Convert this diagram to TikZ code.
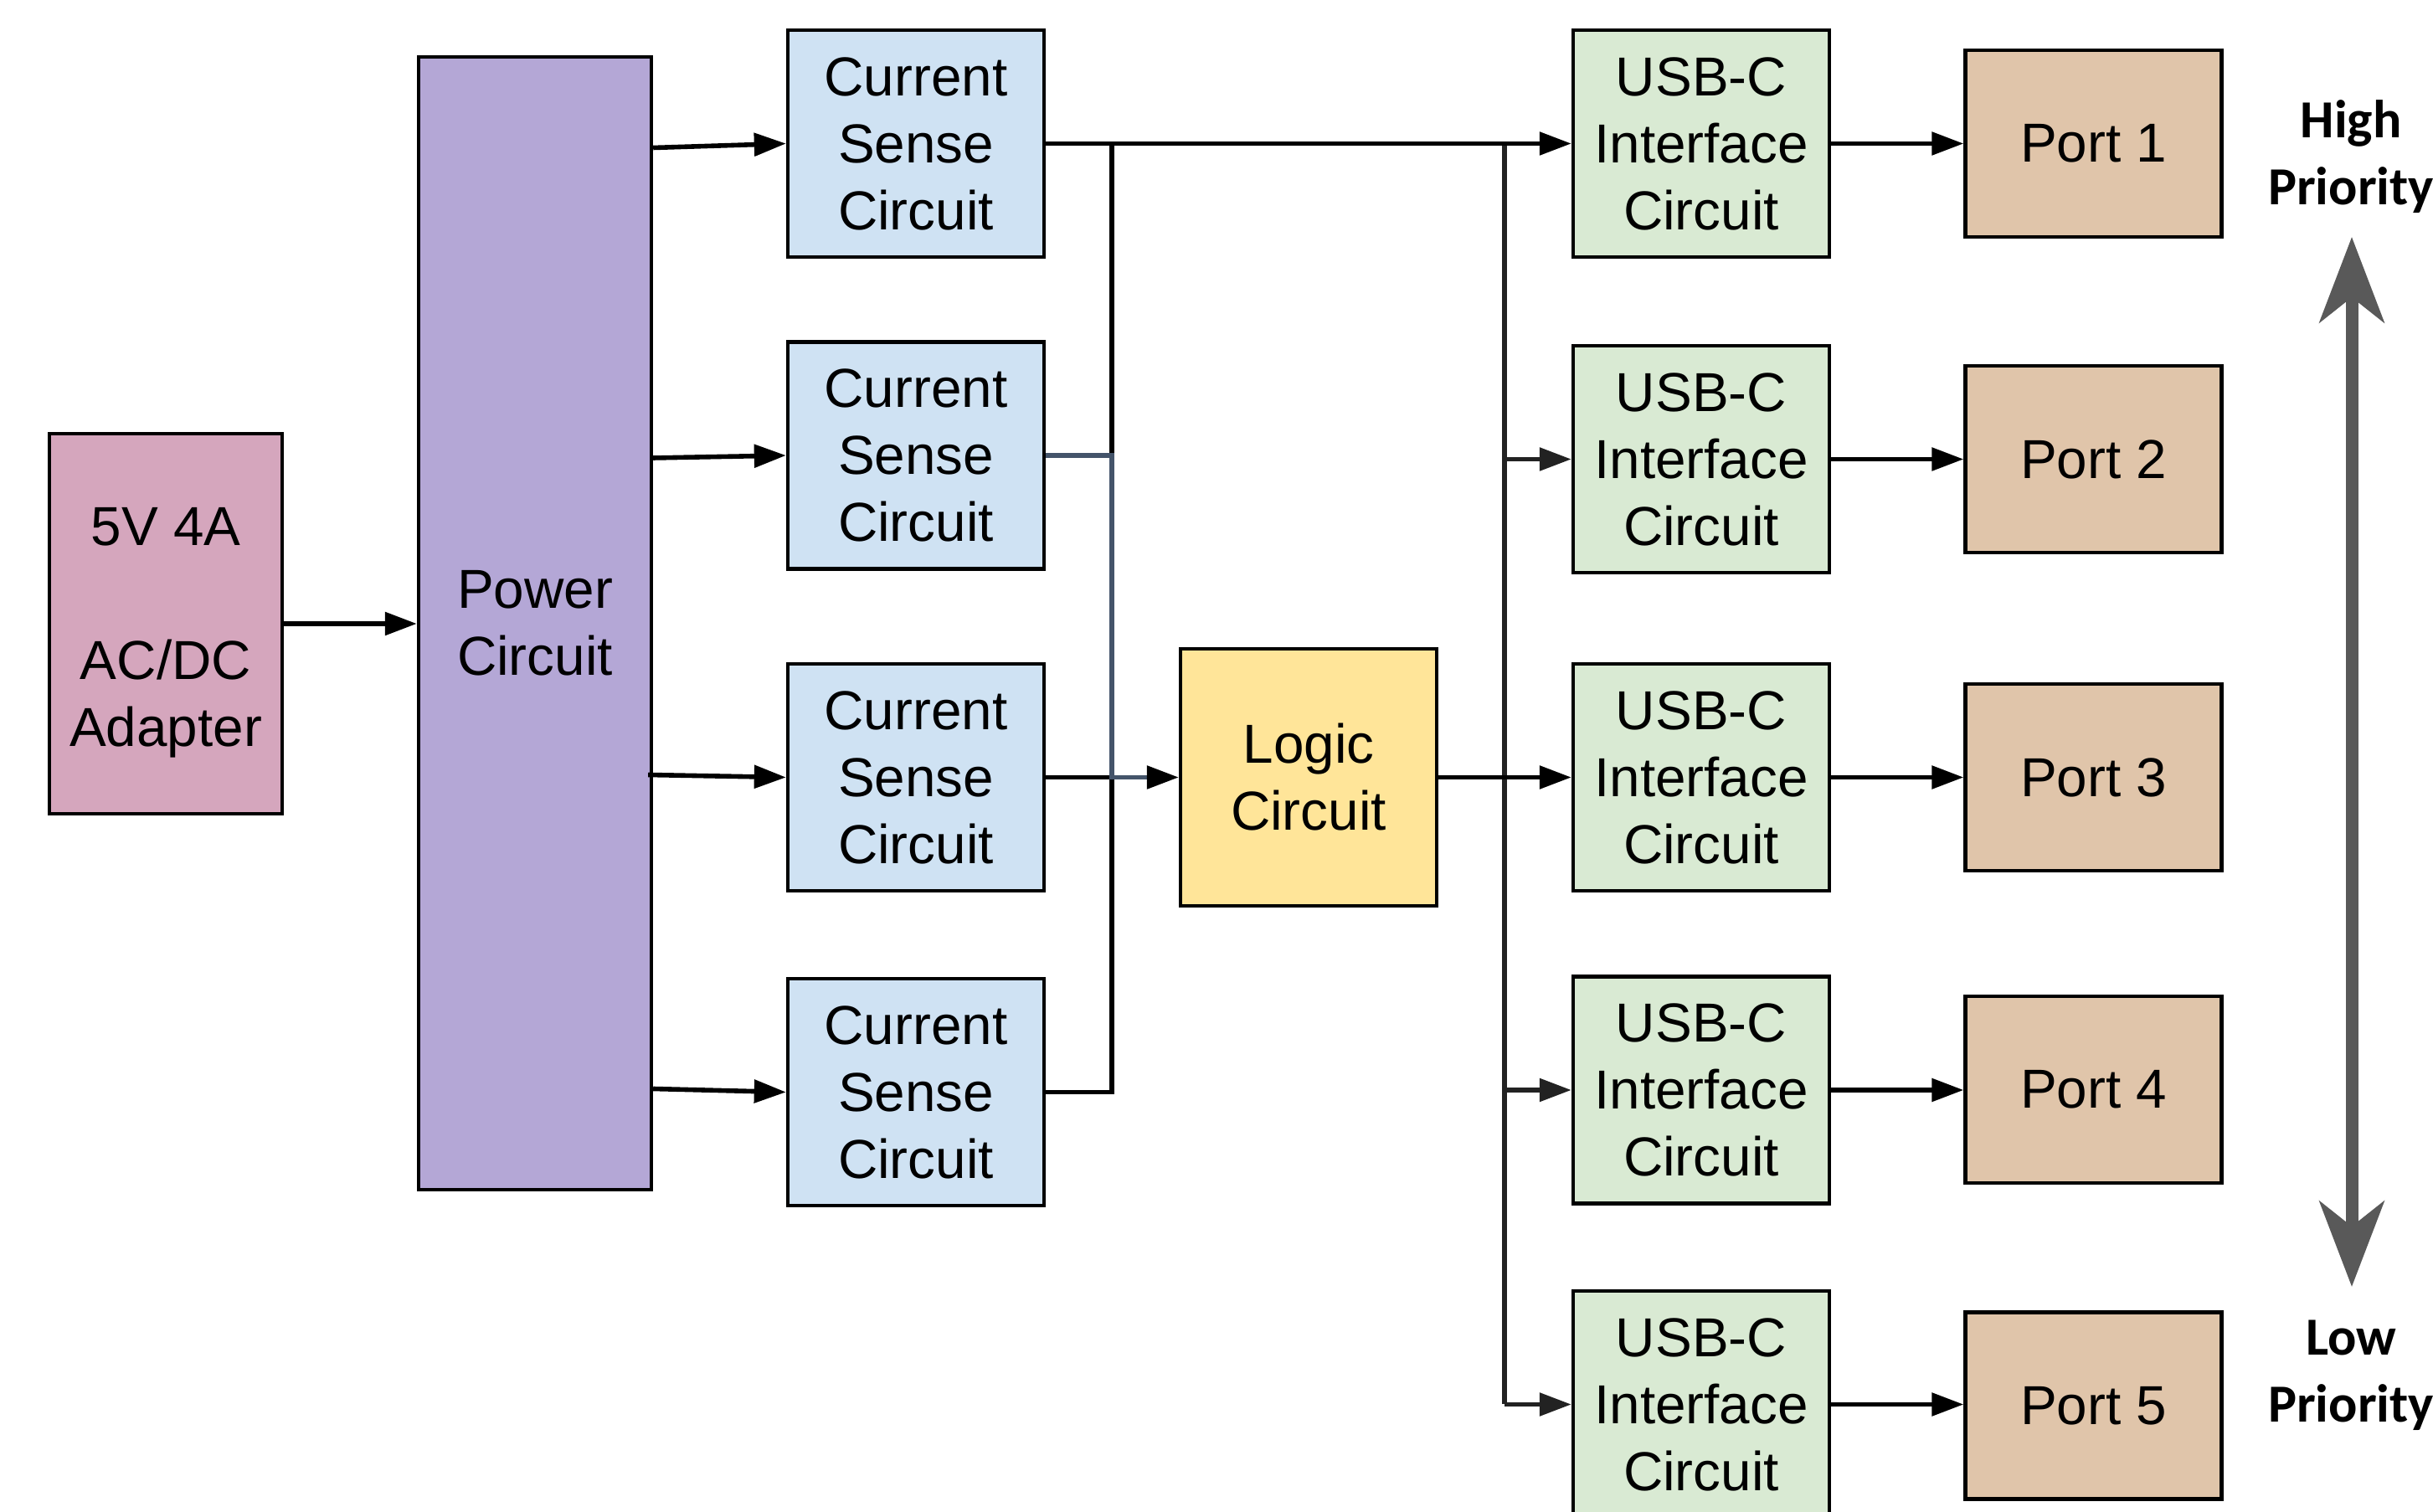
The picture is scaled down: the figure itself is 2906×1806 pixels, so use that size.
\documentclass[tikz,border=0pt]{standalone}
\usepackage{fontspec}
\setmainfont{Liberation Sans}
\newfontfamily\prifont{Carlito}
\usetikzlibrary{arrows.meta,calc}
\definecolor{adapterc}{HTML}{D5A6BD}
\definecolor{powerc}{HTML}{B4A7D6}
\definecolor{csc}{HTML}{CFE2F3}
\definecolor{logicc}{HTML}{FFE599}
\definecolor{usbc}{HTML}{D9EAD3}
\definecolor{portc}{HTML}{E0C5AA}
\definecolor{slate}{HTML}{44546A}
\definecolor{dgray}{HTML}{222222}
\definecolor{prioc}{HTML}{595959}
\begin{document}
\begin{tikzpicture}[x=0.25pt,y=-0.25pt,
  box/.style={draw=black,line width=1.1pt,rectangle,inner sep=0pt,align=center,
    font=\fontsize{16.4pt}{20pt}\selectfont,minimum width=76.5pt,minimum height=67.75pt},
  portbox/.style={box,fill=portc,minimum height=55.75pt},
  conn/.style={line width=1.4pt,line cap=butt},
  arr/.style={conn,-{Triangle[length=9.5pt,width=6.75pt,color=black]}},
  garr/.style={conn,draw=dgray,-{Triangle[length=9.5pt,width=6.75pt,color=dgray]}},
  prio/.style={draw=prioc,line width=3.75pt,{Stealth[length=25.5pt,width=19.25pt,inset=7.5pt]}-{Stealth[length=25.5pt,width=19.25pt,inset=7.5pt]}},
  priotext/.style={align=center,font=\prifont\bfseries\fontsize{16pt}{20pt}\selectfont},
]
\useasboundingbox (0,0) rectangle (2906,1806);

% boxes
\node[box,fill=adapterc,minimum width=69.5pt,minimum height=113.5pt] (adapter) at (198,745) {\rule{0pt}{16.5pt}5V 4A\\[20pt]AC/DC\\Adapter};
\node[box,fill=powerc,minimum width=69.5pt,minimum height=338.25pt] (power) at (639,744.5) {Power\\Circuit};

\node[box,fill=csc] (cs1) at (1094,171.5) {Current\\Sense\\Circuit};
\node[box,fill=csc] (cs2) at (1094,544) {Current\\Sense\\Circuit};
\node[box,fill=csc] (cs3) at (1094,928.5) {Current\\Sense\\Circuit};
\node[box,fill=csc] (cs4) at (1094,1304.5) {Current\\Sense\\Circuit};

\node[box,fill=logicc,minimum height=76.75pt] (logic) at (1563,928.5) {Logic\\Circuit};

\node[box,fill=usbc] (usb1) at (2032,171.5) {USB-C\\Interface\\Circuit};
\node[box,fill=usbc] (usb2) at (2032,548.5) {USB-C\\Interface\\Circuit};
\node[box,fill=usbc] (usb3) at (2032,928.5) {USB-C\\Interface\\Circuit};
\node[box,fill=usbc] (usb4) at (2032,1302) {USB-C\\Interface\\Circuit};
\node[box,fill=usbc] (usb5) at (2032,1677.5) {USB-C\\Interface\\Circuit};

\node[portbox] (port1) at (2500.5,171.5) {Port 1};
\node[portbox] (port2) at (2500.5,548.5) {Port 2};
\node[portbox] (port3) at (2500.5,928.5) {Port 3};
\node[portbox] (port4) at (2500.5,1301.5) {Port 4};
\node[portbox] (port5) at (2500.5,1679) {Port 5};

% adapter -> power
\draw[arr] (adapter.east) -- (adapter.east -| power.west);

% power -> current sense (slightly slanted)
\draw[arr] ($(power.east |- cs1.west)+(0,5)$) -- (cs1.west);
\draw[arr] ($(power.east |- cs2.west)+(0,3)$) -- (cs2.west);
\draw[arr] ($(power.east |- cs3.west)+(-6,-3)$) -- (cs3.west);
\draw[arr] ($(power.east |- cs4.west)+(0,-4)$) -- (cs4.west);

% left bus
\coordinate (LB) at (1328,0);
\coordinate (RB) at (1797,0);
\draw[conn] (LB |- cs1.east) -- (LB |- cs2.east);
\draw[conn] (cs3.east) -- (LB |- cs3.east);
\draw[conn] (cs4.east) -- (LB |- cs4.east) -- (LB |- logic.west);
\draw[conn,draw=slate,-{Triangle[length=9.5pt,width=6.75pt,color=black]}] (cs2.east) -- (LB |- cs2.east) -- (LB |- logic.west) -- (logic.west);

% right bus
\draw[conn,draw=dgray] (RB |- usb1.west) -- (RB |- usb5.west);
\draw[arr] (cs1.east) -- (usb1.west);
\draw[garr] (RB |- usb2.west) -- (usb2.west);
\draw[arr] (logic.east) -- (usb3.west);
\draw[garr] (RB |- usb4.west) -- (usb4.west);
\draw[garr] (RB |- usb5.west) -- (usb5.west);

% usb -> ports
\draw[arr] (usb1.east) -- (usb1.east -| port1.west);
\draw[arr] (usb2.east) -- (usb2.east -| port2.west);
\draw[arr] (usb3.east) -- (usb3.east -| port3.west);
\draw[arr] (usb4.east) -- (usb4.east -| port4.west);
\draw[arr] (usb5.east) -- (usb5.east -| port5.west);

% priority
\node[priotext] (high) at (2808,187) {High\\Priority};
\node[priotext] (low) at (2808,1643) {Low\\Priority};
\coordinate (hitip) at (2809,283);
\coordinate (lotip) at (2809,1537);
\draw[prio] (hitip) -- (lotip);
\end{tikzpicture}
\end{document}
